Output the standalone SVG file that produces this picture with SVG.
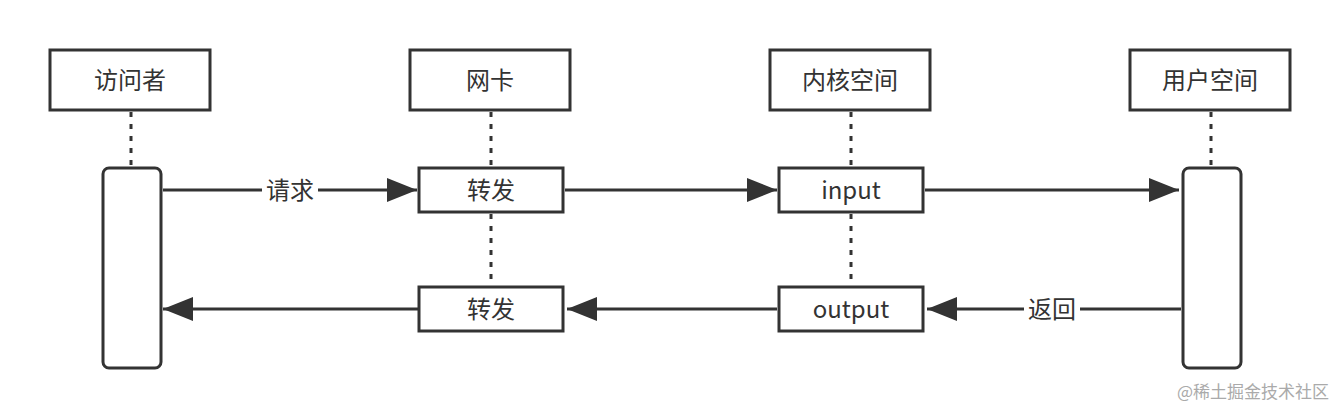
<svg xmlns="http://www.w3.org/2000/svg" width="1344" height="418" viewBox="0 0 1344 418">
<style>
.b{fill:#fff;stroke:#333;stroke-width:3}
.t{font-family:"Noto Sans CJK SC","Noto Sans",sans-serif;font-size:24px;fill:#333;text-anchor:middle}
.d{stroke:#333;stroke-width:3;stroke-dasharray:5 7;fill:none}
.l{stroke:#333;stroke-width:3;fill:none}
</style>
<defs><marker id="a" viewBox="0 0 10 10" refX="10" refY="5" markerWidth="10" markerHeight="10" markerUnits="userSpaceOnUse" orient="auto"><path d="M0,0L10,5L0,10z" fill="#333"/></marker>
<marker id="m" viewBox="0 0 30 24" refX="30" refY="12" markerWidth="30" markerHeight="24" markerUnits="userSpaceOnUse" orient="auto"><path d="M0,0L30,12L0,24z" fill="#333"/></marker></defs>
<g id="connectors">
<path class="d" d="M131 112V166M491 112V166M851 112V166M1211 112V166M491 214V285M851 214V285"/>
<path class="l" d="M163 190H417" marker-end="url(#m)"/>
<rect x="262" y="176" width="56" height="28" fill="#fff"/>
<text class="t" x="290" y="199">请求</text>
<path class="l" d="M565 190H777" marker-end="url(#m)"/>
<path class="l" d="M925 190H1179" marker-end="url(#m)"/>
<path class="l" d="M1181 309H927" marker-end="url(#m)"/>
<rect x="1024" y="295" width="56" height="28" fill="#fff"/>
<text class="t" x="1052" y="318">返回</text>
<path class="l" d="M777 309H567" marker-end="url(#m)"/>
<path class="l" d="M419 309H163" marker-end="url(#m)"/>
</g>
<g id="visitor"><rect class="b" x="50" y="50" width="160" height="60"/><text class="t" x="130" y="89">访问者</text></g>
<g id="nic"><rect class="b" x="410" y="50" width="160" height="60"/><text class="t" x="490" y="89">网卡</text></g>
<g id="kernel"><rect class="b" x="770" y="50" width="160" height="60"/><text class="t" x="850" y="89">内核空间</text></g>
<g id="user"><rect class="b" x="1130" y="50" width="160" height="60"/><text class="t" x="1210" y="89">用户空间</text></g>
<g id="visitor-act"><rect class="b" x="103" y="168" width="58" height="200" rx="6"/></g>
<g id="user-act"><rect class="b" x="1183" y="168" width="58" height="200" rx="6"/></g>
<g id="fwd1"><rect class="b" x="419" y="168" width="144" height="44"/><text class="t" x="491" y="199">转发</text></g>
<g id="fwd2"><rect class="b" x="419" y="287" width="144" height="44"/><text class="t" x="491" y="318">转发</text></g>
<g id="input"><rect class="b" x="779" y="168" width="144" height="44"/><text class="t" x="851" y="199">input</text></g>
<g id="output"><rect class="b" x="779" y="287" width="144" height="44"/><text class="t" x="851" y="318">output</text></g>
<text x="1329" y="398" font-family="Noto Sans CJK SC,sans-serif" font-size="17" fill="#aaa" text-anchor="end">@稀土掘金技术社区</text>
</svg>
